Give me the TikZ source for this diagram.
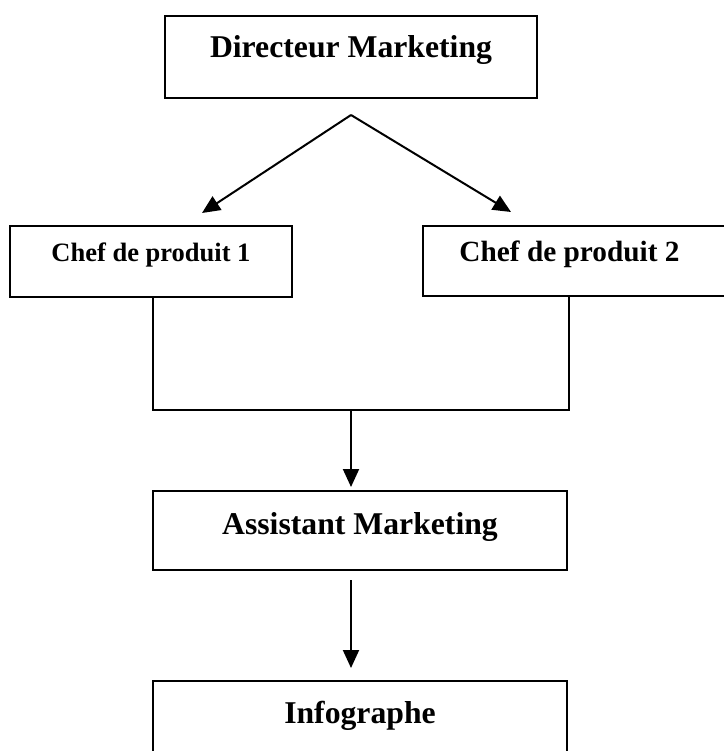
\documentclass[tikz,border=0pt]{standalone}
\usepackage{fontspec}
\setmainfont{Liberation Serif}
\usetikzlibrary{arrows.meta}
\tikzset{
  orgbox/.style={draw=black, line width=2pt, rectangle, inner sep=0pt, font=\bfseries},
  conn/.style={line width=2pt, draw=black},
  arr/.style={conn, -{Triangle[length=18pt,width=16pt]}},
  bigtxt/.style={font=\bfseries\fontsize{31.7}{36}\selectfont},
}
\begin{document}
\begin{tikzpicture}[x=1pt, y={(0pt,-1pt)}]
\useasboundingbox (0,0) rectangle (723,751);
% boxes (text height = baseline below top, text depth = rest)
\node[orgbox, bigtxt, minimum width=372pt, text height=42pt, text depth=40pt] (dir) at (351,15) [anchor=north] {Directeur Marketing};
\node[orgbox, font=\bfseries\fontsize{26.5}{30}\selectfont, minimum width=282pt, text height=35pt, text depth=36pt, anchor=north] (c1) at (151,225) {Chef de produit 1};
\node[orgbox, font=\bfseries\fontsize{29.3}{33}\selectfont, minimum width=303pt, text height=35pt, text depth=35pt, anchor=north west] (c2) at (422,225) {\hspace*{-10pt}Chef de produit 2};
\node[orgbox, bigtxt, minimum width=414pt, text height=43pt, text depth=36pt, anchor=north] (asst) at (360,490) {Assistant Marketing};
\node[orgbox, bigtxt, minimum width=414pt, text height=42pt, text depth=45pt, anchor=north] (info) at (360,680) {Infographe};
% connectors
\coordinate (apex) at (351,115);
\coordinate (t1) at (202,213);
\coordinate (t2) at (511,212);
\draw[arr] (apex) -- (t1);
\draw[arr] (apex) -- (t2);
\coordinate (bl) at (153,410);
\coordinate (br) at (569,410);
\coordinate (bm) at (351,410);
\draw[conn] (c1.south -| bl) -- (bl) -- (br) -- (c2.south -| br);
\draw[arr] (bm) -- ([yshift=3pt]asst.north -| bm);
\draw[arr] ([yshift=-9pt]asst.south -| bm) -- ([yshift=12pt]info.north -| bm);
\end{tikzpicture}
\end{document}
